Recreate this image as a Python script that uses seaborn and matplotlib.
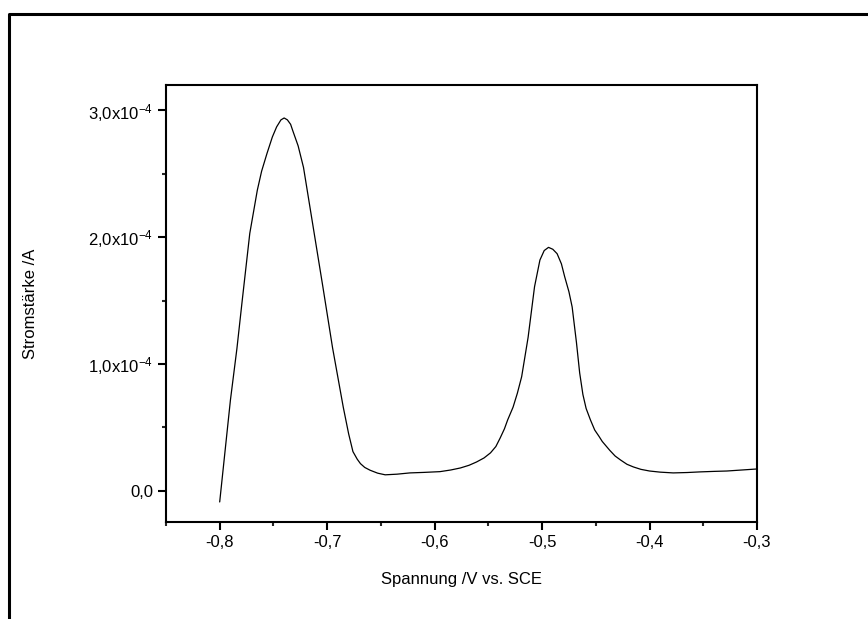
import numpy as np
import pandas as pd
import matplotlib
matplotlib.use('Agg')
import matplotlib.pyplot as plt
from matplotlib.lines import Line2D
from matplotlib.ticker import MultipleLocator, FixedLocator, FixedFormatter
import seaborn as sns

# Data (voltage in V vs. SCE, current in units of 1e-4 A)
voltage = [-0.800, -0.790, -0.784, -0.779, -0.772, -0.765, -0.761, -0.756,
           -0.751, -0.747, -0.743, -0.740, -0.737, -0.734, -0.732, -0.727,
           -0.722, -0.713, -0.704, -0.695, -0.685, -0.680, -0.676, -0.672,
           -0.669, -0.665, -0.660, -0.653, -0.646, -0.635, -0.623, -0.610,
           -0.595, -0.585, -0.576, -0.568, -0.561, -0.554, -0.548, -0.543,
           -0.539, -0.535, -0.532, -0.527, -0.523, -0.519, -0.513, -0.507,
           -0.502, -0.498, -0.494, -0.490, -0.486, -0.482, -0.479, -0.475,
           -0.472, -0.468, -0.465, -0.462, -0.459, -0.455, -0.451, -0.447,
           -0.444, -0.437, -0.432, -0.427, -0.421, -0.415, -0.408, -0.400,
           -0.390, -0.378, -0.365, -0.353, -0.340, -0.328, -0.314, -0.300]
current_e4 = [-0.087, 0.717, 1.12, 1.504, 2.03, 2.37, 2.52, 2.66,
              2.79, 2.87, 2.925, 2.94, 2.925, 2.89, 2.84, 2.72,
              2.55, 2.08, 1.61, 1.13, 0.66, 0.45, 0.31, 0.25,
              0.215, 0.185, 0.163, 0.14, 0.127, 0.132, 0.142, 0.146,
              0.152, 0.165, 0.181, 0.202, 0.228, 0.26, 0.30, 0.35,
              0.417, 0.49, 0.56, 0.66, 0.77, 0.90, 1.21, 1.61,
              1.82, 1.895, 1.92, 1.905, 1.87, 1.79, 1.69, 1.57,
              1.45, 1.17, 0.93, 0.76, 0.65, 0.56, 0.48, 0.43,
              0.39, 0.32, 0.275, 0.244, 0.21, 0.189, 0.170, 0.157,
              0.148, 0.142, 0.145, 0.150, 0.154, 0.157, 0.165, 0.173]

x_ticks = [-0.8, -0.7, -0.6, -0.5, -0.4, -0.3]
x_labels = ['-0,8', '-0,7', '-0,6', '-0,5', '-0,4', '-0,3']
y_ticks = [0.0, 1e-4, 2e-4, 3e-4]
y_labels = ['0,0', r'1,0x10$^{-4}$', r'2,0x10$^{-4}$', r'3,0x10$^{-4}$']

df = pd.DataFrame({'voltage': voltage,
                   'current': np.array(current_e4) * 1e-4})

sns.set_style('ticks')
plt.rcParams['font.family'] = ['Liberation Sans', 'DejaVu Sans']
plt.rcParams['mathtext.fontset'] = 'custom'
plt.rcParams['mathtext.rm'] = 'Liberation Sans'
plt.rcParams['mathtext.it'] = 'Liberation Sans'
plt.rcParams['mathtext.default'] = 'rm'

fig = plt.figure(figsize=(8.68, 6.19), dpi=100)
ax = fig.add_axes([0.1912, 0.1567, 0.6809, 0.7060])

sns.lineplot(data=df, x='voltage', y='current', ax=ax, color='black',
             linewidth=0.9, sort=False)

ax.set_xlim(-0.85, -0.3)
ax.set_ylim(-0.245e-4, 3.2e-4)

ax.xaxis.set_major_locator(FixedLocator(x_ticks))
ax.xaxis.set_major_formatter(FixedFormatter(x_labels))
ax.xaxis.set_minor_locator(MultipleLocator(0.05))
ax.yaxis.set_major_locator(FixedLocator(y_ticks))
ax.yaxis.set_major_formatter(FixedFormatter(y_labels))
ax.yaxis.set_minor_locator(MultipleLocator(0.5e-4))

for side in ['left', 'bottom', 'top', 'right']:
    ax.spines[side].set_linewidth(1.5)
    ax.spines[side].set_color('black')
ax.tick_params(which='major', direction='out', length=6, width=1.5,
               labelsize=12, pad=3, colors='black')
ax.tick_params(which='minor', direction='out', length=3, width=1.5)

ax.set_xlabel('Spannung /V vs. SCE', fontsize=12, labelpad=16, color='black')
ax.set_ylabel('Stromstärke /A', fontsize=12, labelpad=36, color='black')

# outer frame (top and left edge of the page)
fig.add_artist(Line2D([0.0104, 0.0104, 1.0], [0.0, 0.9774, 0.9774],
                      transform=fig.transFigure, color='black', linewidth=2.2))

fig.savefig('out.png', dpi=100)
